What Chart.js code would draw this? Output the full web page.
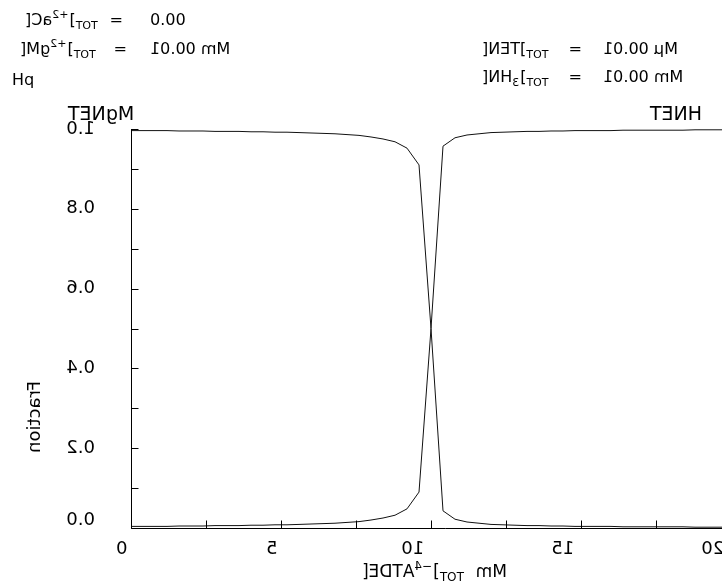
<!DOCTYPE html>
<html><head><meta charset="utf-8">
<script src="https://cdn.jsdelivr.net/npm/chart.js@4/dist/chart.umd.min.js"></script>
<style>
html,body{margin:0;padding:0;background:#fff;overflow:hidden;width:722px;height:584px}
#wrap{position:relative;width:722px;height:584px;overflow:hidden}
canvas{display:block}
</style></head>
<body><div id="wrap"><canvas id="c" width="760" height="584"></canvas></div>
<script>
// ---- data ----
const xValues = [0,0.4,0.8,1.2,1.6,2.0,2.4,2.8,3.2,3.6,4.0,4.4,4.8,5.2,5.6,6.0,6.4,6.8,7.2,7.6,8.0,8.4,8.8,9.2,9.6,10.0,
  10.4,10.8,11.2,11.6,12.0,12.4,12.8,13.2,13.6,14.0,14.4,14.8,15.2,15.6,16.0,16.4,16.8,17.2,17.6,18.0,18.4,18.8,19.2,19.6,20.0];
const mgNET = [0.996,0.996,0.996,0.996,0.995,0.995,0.995,0.994,0.994,0.994,0.993,0.993,0.992,0.992,0.991,0.990,0.989,0.988,0.986,0.984,0.980,0.975,0.968,0.952,0.910,0.500,
  0.043,0.022,0.015,0.012,0.009,0.008,0.007,0.006,0.006,0.005,0.005,0.004,0.004,0.004,0.004,0.003,0.003,0.003,0.003,0.003,0.003,0.002,0.002,0.002,0.002];
const hNET = [0.004,0.004,0.004,0.004,0.005,0.005,0.005,0.006,0.006,0.006,0.007,0.007,0.008,0.008,0.009,0.010,0.011,0.012,0.014,0.016,0.020,0.025,0.032,0.048,0.090,0.500,
  0.957,0.978,0.985,0.988,0.991,0.992,0.993,0.994,0.994,0.995,0.995,0.996,0.996,0.996,0.996,0.997,0.997,0.997,0.997,0.997,0.997,0.998,0.998,0.998,0.998];
const seriesNames = ["MgNET","HNET"];
const yTickValues = [0,0.2,0.4,0.6,0.8,1.0];
const yTickLabels = ["0.0","0.2","0.4","0.6","0.8","1.0"];
const yMinorTicks = [0,0.1,0.2,0.3,0.4,0.5,0.6,0.7,0.8,0.9,1.0];
const xTickValues = [0,5,10,15,20];
const xTickLabels = ["0","5","10","15","20"];
const xMinorTicks = [0,2.5,5,7.5,10,12.5,15,17.5,20];
const yTitle = "Fraction";
const xTitleRuns = [["[EDTA",0],["4\u2212",-1],["]",0],["TOT",1],["  mM",0]];
const headerLeft = [
  {runs:[["[Ca",0],["2+",-1],["]",0],["TOT",1]], value:"0.00"},
  {runs:[["[Mg",0],["2+",-1],["]",0],["TOT",1]], value:"10.00 mM"}
];
const headerRight = [
  {runs:[["[NET",0],["]",0],["TOT",1]], value:"10.00 \u03bcM"},
  {runs:[["[NH",0],["3",1],["]",0],["TOT",1]], value:"10.00 mM"}
];
const phLabel = "pH";

// ---- helpers ----
const FF = '"DejaVu Sans", sans-serif';
// whole run mirrored in place
function mText(ctx, s, left, cy, size){
  ctx.font = size + 'px ' + FF;
  const w = ctx.measureText(s).width;
  ctx.save();
  ctx.translate(left + w/2, cy);
  ctx.scale(-1,1);
  ctx.textAlign='center'; ctx.textBaseline='middle';
  ctx.fillStyle='#000';
  ctx.fillText(s,0,0);
  ctx.restore();
  return w;
}
// each glyph mirrored in place, order kept
function gText(ctx, s, left, cy, size){
  let x = left;
  for (const ch of s){ x += mText(ctx, ch, x, cy, size); }
  return x - left;
}
function runs(ctx, list, left, cy, size){
  let x = left;
  for (const [t,k] of list){
    if (k===0){ x += gText(ctx,t,x,cy,size); }
    else { const sz=Math.round(size*0.68); x += gText(ctx,t,x,cy + (k<0?-6:5),sz) + 1; }
  }
  return x;
}

const axesPlugin = {
  id:'axesPlugin',
  afterDraw(chart){
    const ctx = chart.ctx, xs = chart.scales.x, ys = chart.scales.y;
    const x0 = Math.round(xs.getPixelForValue(0))+0.5;
    const y0 = Math.round(ys.getPixelForValue(0))+0.5;
    const yTop = ys.getPixelForValue(1);
    ctx.save();
    ctx.strokeStyle='#000'; ctx.lineWidth=1;
    ctx.beginPath();
    ctx.moveTo(x0, yTop); ctx.lineTo(x0, y0);
    ctx.lineTo(chart.width, y0);
    for (const v of yMinorTicks){ const p=Math.round(ys.getPixelForValue(v))+0.5; ctx.moveTo(x0,p); ctx.lineTo(x0+7,p); }
    for (const v of xMinorTicks){ const p=Math.round(xs.getPixelForValue(v))+0.5; ctx.moveTo(p,y0); ctx.lineTo(p,y0-8); }
    ctx.stroke();
    // y tick labels
    yTickValues.forEach((v,i)=>{
      ctx.font='18px '+FF;
      const w=ctx.measureText(yTickLabels[i]).width;
      let cy = ys.getPixelForValue(v); if (v===0) cy -= 8;
      mText(ctx,yTickLabels[i],95-w,cy,18);
    });
    // x tick labels
    xTickValues.forEach((v,i)=>{
      ctx.font='18px '+FF;
      const w=ctx.measureText(xTickLabels[i]).width;
      const cx = xs.getPixelForValue(v) - 0.8*w;
      mText(ctx,xTickLabels[i],cx-w/2,549,18);
    });
    // y title (mirrored along its reading direction)
    ctx.save();
    ctx.translate(35,417); ctx.rotate(-Math.PI/2); ctx.scale(-1,1);
    ctx.font='18px '+FF; ctx.textAlign='center'; ctx.textBaseline='middle'; ctx.fillStyle='#000';
    ctx.fillText(yTitle,0,0);
    ctx.restore();
    // x title
    runs(ctx,xTitleRuns,362,573,17);
    // series labels
    mText(ctx,seriesNames[0],68,115,19);
    mText(ctx,seriesNames[1],650,115,19);
    // headers
    const eqL=[123,127], eqR=[582,582];
    headerLeft.forEach((h,i)=>{
      const cy=[21,50][i];
      runs(ctx,h.runs,[25,20][i],cy,16);
      ctx.font='16px '+FF; const we=ctx.measureText('=').width;
      mText(ctx,'=',eqL[i]-we,cy,16);
      gText(ctx,h.value,150,cy,16);
    });
    headerRight.forEach((h,i)=>{
      const cy=[50,78][i];
      runs(ctx,h.runs,482,cy,16);
      ctx.font='16px '+FF; const we=ctx.measureText('=').width;
      mText(ctx,'=',eqR[i]-we,cy,16);
      gText(ctx,h.value,603,cy,16);
    });
    mText(ctx,phLabel,12,81,16);
    ctx.restore();
  }
};

new Chart(document.getElementById('c'), {
  type:'line',
  data:{
    datasets:[
      {label:seriesNames[0], data:xValues.map((x,i)=>({x:x,y:mgNET[i]})), borderColor:'#111', borderWidth:1, pointRadius:0, fill:false, tension:0},
      {label:seriesNames[1], data:xValues.map((x,i)=>({x:x,y:hNET[i]})), borderColor:'#111', borderWidth:1, pointRadius:0, fill:false, tension:0}
    ]
  },
  options:{
    responsive:false, animation:false, events:[],
    layout:{padding:{left:131,right:29,top:129,bottom:56}},
    plugins:{legend:{display:false}, tooltip:{enabled:false}},
    scales:{
      x:{type:'linear', min:0, max:20, display:false},
      y:{type:'linear', min:0, max:1, display:false}
    }
  },
  plugins:[axesPlugin]
});
</script>
</body></html>
